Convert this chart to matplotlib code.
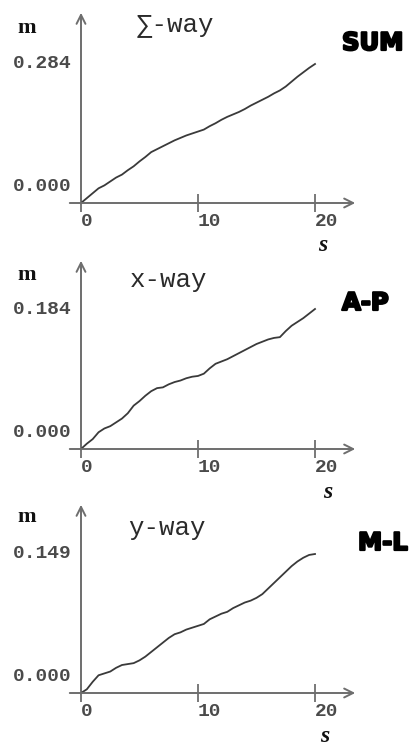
import matplotlib

matplotlib.use("Agg")
import matplotlib.pyplot as plt
import matplotlib.patheffects as pe
from matplotlib.patches import FancyArrowPatch

# sway path length s vs. displacement m, sampled every 0.5 s
s_values = [i * 0.5 for i in range(41)]

sum_way = [
    0.000, 0.010, 0.020, 0.030, 0.036, 0.044, 0.052, 0.058, 0.067, 0.075,
    0.085, 0.094, 0.104, 0.110, 0.116, 0.122, 0.128, 0.133, 0.138, 0.142,
    0.146, 0.150, 0.157, 0.163, 0.170, 0.176, 0.181, 0.186, 0.192, 0.199,
    0.205, 0.211, 0.217, 0.224, 0.230, 0.238, 0.248, 0.258, 0.267, 0.276,
    0.284,
]
x_way = [
    0.000, 0.007, 0.013, 0.022, 0.027, 0.030, 0.035, 0.040, 0.047, 0.057,
    0.063, 0.070, 0.076, 0.080, 0.081, 0.085, 0.088, 0.090, 0.093, 0.095,
    0.096, 0.099, 0.106, 0.112, 0.115, 0.118, 0.122, 0.126, 0.130, 0.134,
    0.138, 0.141, 0.144, 0.146, 0.147, 0.155, 0.162, 0.167, 0.172, 0.178,
    0.184,
]
y_way = [
    0.000, 0.004, 0.012, 0.019, 0.021, 0.023, 0.027, 0.030, 0.031, 0.032,
    0.035, 0.039, 0.044, 0.049, 0.054, 0.059, 0.063, 0.065, 0.068, 0.070,
    0.072, 0.074, 0.079, 0.082, 0.085, 0.087, 0.091, 0.094, 0.097, 0.099,
    0.102, 0.106, 0.112, 0.118, 0.124, 0.130, 0.136, 0.141, 0.145, 0.148,
    0.149,
]

titles = ["\u2211-way", "x-way", "y-way"]
tags = ["SUM", "A-P", "M-L"]
top_values = [0.284, 0.184, 0.149]
x_ticks = [0, 10, 20]

W, H = 416, 747
AXIS_GRAY = "#6e6e6e"
LABEL_GRAY = "#4a4a4a"
MONO = ["Liberation Mono", "DejaVu Sans Mono"]
SERIF = ["Liberation Serif", "DejaVu Serif"]

# per panel: x-axis row, top-value row, arrow tip row, title/tag/label rows (px from top)
panels = [
    dict(axis_y=203, top_y=64, tip_y=10, title=(137, 25), tag=(342, 43),
         m=(27, 28), s=(323, 245)),
    dict(axis_y=449, top_y=309, tip_y=258, title=(130, 280), tag=(342, 303),
         m=(27, 275), s=(328, 492)),
    dict(axis_y=693, top_y=554, tip_y=502, title=(128, 528), tag=(358, 543),
         m=(27, 517), s=(325, 737)),
]
X0_PX, X20_PX = 81, 315
XAXIS_LEFT, XAXIS_RIGHT = 67, 358


def fx(px):
    return px / W


def fy(py):
    return 1 - py / H


fig = plt.figure(figsize=(W / 100, H / 100), dpi=100)
fig.patch.set_facecolor("white")

for series, title, tag, top, p in zip(
        [sum_way, x_way, y_way], titles, tags, top_values, panels):
    ax = fig.add_axes([fx(X0_PX), fy(p["axis_y"]),
                       (X20_PX - X0_PX) / W, (p["axis_y"] - p["top_y"]) / H])
    ax.set_xlim(0, 20)
    ax.set_ylim(0, top)
    ax.patch.set_visible(False)
    for sp in ax.spines.values():
        sp.set_visible(False)

    ax.plot(s_values, series, color="#3a3a3a", linewidth=1.3, clip_on=False)

    ax.set_xticks(x_ticks)
    ax.set_xticklabels([str(t) for t in x_ticks])
    ax.tick_params(axis="x", direction="inout", length=13, width=1.3,
                   color=AXIS_GRAY, pad=1, labelsize=14, labelcolor=LABEL_GRAY)
    for lbl in ax.get_xticklabels():
        lbl.set_horizontalalignment("left")
        lbl.set_fontfamily(MONO)
        lbl.set_fontweight("bold")
    ax.set_yticks([])

    ytrans = ax.get_yaxis_transform()
    ax.annotate(f"{top:.3f}", xy=(0, top), xycoords=ytrans, xytext=(-6.5, 0),
                textcoords="offset points", ha="right", va="center",
                fontsize=14, fontweight="bold", family=MONO, color=LABEL_GRAY)
    ax.annotate("0.000", xy=(0, 0), xycoords=ytrans, xytext=(-6.5, 12),
                textcoords="offset points", ha="right", va="center",
                fontsize=14, fontweight="bold", family=MONO, color=LABEL_GRAY)

    # axis arrows
    fig.add_artist(FancyArrowPatch((fx(XAXIS_LEFT), fy(p["axis_y"])),
                                   (fx(XAXIS_RIGHT), fy(p["axis_y"])),
                                   transform=fig.transFigure, arrowstyle="->",
                                   mutation_scale=16, color=AXIS_GRAY, lw=1.4))
    fig.add_artist(FancyArrowPatch((fx(X0_PX), fy(p["axis_y"])),
                                   (fx(X0_PX), fy(p["tip_y"])),
                                   transform=fig.transFigure, arrowstyle="->",
                                   mutation_scale=16, color=AXIS_GRAY, lw=1.4))

    fig.text(fx(p["title"][0]), fy(p["title"][1]), title, ha="left", va="center",
             fontsize=18.5, family=MONO + ["DejaVu Sans"], color="#2a2a2a")
    fig.text(fx(p["tag"][0]), fy(p["tag"][1]), tag, ha="left", va="center",
             fontsize=17.5, fontweight="heavy", family="DejaVu Sans", color="black",
             path_effects=[pe.withStroke(linewidth=1.6, foreground="black")])
    fig.text(fx(p["m"][0]), fy(p["m"][1]), "m", ha="center", va="center",
             fontsize=16, fontweight="bold", family=SERIF, color="#111111")
    fig.text(fx(p["s"][0]), fy(p["s"][1]), "s", ha="center", va="center",
             fontsize=17, fontweight="bold", style="italic", family=SERIF,
             color="#111111")

fig.savefig("out.png", dpi=100)
